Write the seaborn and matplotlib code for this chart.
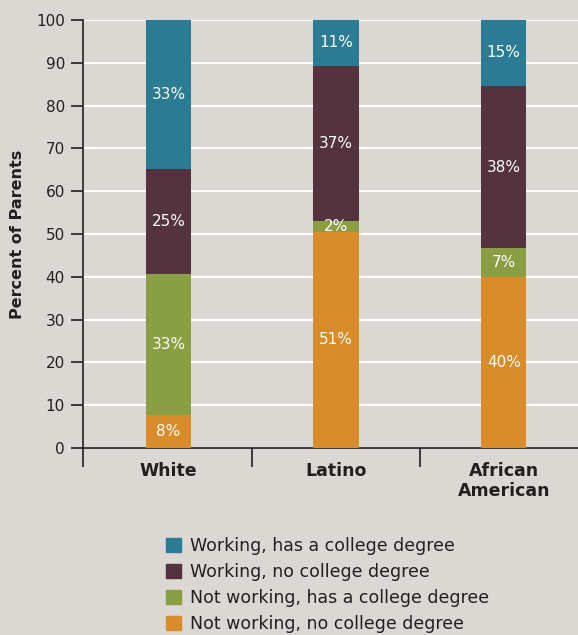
import numpy as np
import pandas as pd
import matplotlib
matplotlib.use("Agg")
import matplotlib.pyplot as plt
import matplotlib.patches as mpatches
import seaborn as sns

# Data (percent of parents)
groups = ["White", "Latino", "African\nAmerican"]
series = [
    "Not working, no college degree",
    "Not working, has a college degree",
    "Working, no college degree",
    "Working, has a college degree",
]
not_work_no_deg = [7.7, 50.5, 40.0]
not_work_deg = [33.0, 2.5, 6.7]
work_no_deg = [24.6, 36.3, 37.9]
work_deg = [34.7, 10.7, 15.4]
seg_labels = [
    ["8%", "51%", "40%"],
    ["33%", "2%", "7%"],
    ["25%", "37%", "38%"],
    ["33%", "11%", "15%"],
]
colors = ["#d98c2a", "#8a9e43", "#54323e", "#2b7b94"]

BG = "#dbd7d2"
INK = "#231f20"

sns.set_style("white")
plt.rcParams["font.family"] = ["DejaVu Sans"]

df = pd.DataFrame({
    "group": groups,
    series[0]: not_work_no_deg,
    series[1]: not_work_deg,
    series[2]: work_no_deg,
    series[3]: work_deg,
})
cum = df[series].cumsum(axis=1)

fig = plt.figure(figsize=(5.78, 6.35), dpi=100, facecolor=BG)
ax = fig.add_axes([0.1436, 0.2945, 0.87, 0.674])
ax.set_facecolor(BG)

# stacked bars: draw cumulative totals from the top layer down
for i in range(3, -1, -1):
    tmp = pd.DataFrame({"group": groups, "val": cum[series[i]]})
    sns.barplot(data=tmp, x="group", y="val", color=colors[i], width=0.27,
                saturation=1, linewidth=0, ax=ax, zorder=3)

# segment labels
for j in range(3):
    base = 0
    for i in range(4):
        v = df[series[i]][j]
        ax.text(j, base + v / 2, seg_labels[i][j], ha="center", va="center",
                color="white", fontsize=11, zorder=4)
        base += v

ax.set_xlim(-0.51, 2.49)
ax.set_ylim(0, 100)
ax.set_yticks(range(0, 101, 10))
ax.tick_params(axis="y", left=True, labelsize=11, colors=INK, length=9,
               width=1.2, direction="out", pad=4)
ax.yaxis.grid(True, color="white", linewidth=1.5, zorder=0)
ax.set_axisbelow(True)

ax.set_xticks([0, 1, 2])
ax.set_xticklabels(groups, fontsize=12.5, fontweight="bold", color=INK,
                   linespacing=1.15)
ax.tick_params(axis="x", which="major", length=0, pad=10)
ax.set_xticks([-0.51, 0.5, 1.5], minor=True)
ax.tick_params(axis="x", which="minor", bottom=True, length=14, width=1.2,
               color=INK, direction="out")

ax.set_xlabel("")
ax.set_ylabel("Percent of Parents", fontsize=11.5, fontweight="bold",
              color=INK, labelpad=8)

for s in ["top", "right"]:
    ax.spines[s].set_visible(False)
for s in ["left", "bottom"]:
    ax.spines[s].set_color(INK)
    ax.spines[s].set_linewidth(1.2)

handles = [mpatches.Patch(color=colors[i], label=series[i]) for i in range(3, -1, -1)]
fig.legend(handles=handles, loc="upper left", bbox_to_anchor=(0.275, 0.165),
           frameon=False, fontsize=12.5, handlelength=0.85, handleheight=0.85,
           handletextpad=0.55, labelspacing=0.46, borderaxespad=0,
           labelcolor=INK)

fig.savefig("out.png", dpi=100, facecolor=BG)
